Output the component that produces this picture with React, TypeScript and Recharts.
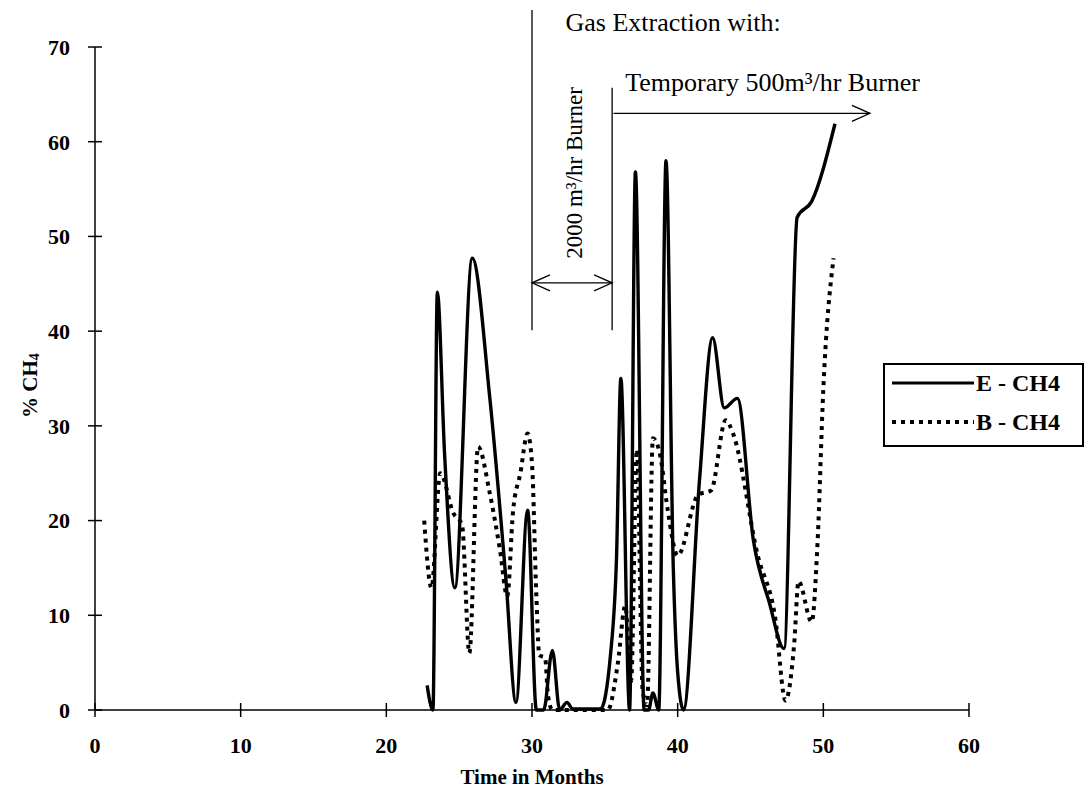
import { LineChart, Line, XAxis, YAxis, Legend, ReferenceLine, ReferenceDot } from "recharts"

// E - CH4 (solid)
const eMonths = [22.8, 23.2, 23.5, 24.0, 24.7, 25.9, 27.1, 28.2, 28.9, 29.7, 30.3, 30.8, 31.4, 31.9, 32.4, 32.8, 34.7, 35.4, 35.8, 36.1, 36.7, 37.1, 37.7, 38.0, 38.3, 38.7, 39.2, 39.7, 40.0, 40.4, 41.5, 42.4, 43.2, 44.1, 45.2, 46.3, 47.3, 48.2, 49.2, 50.8]
const eCH4 = [2.6, 0, 44.1, 27, 12.9, 47.7, 33, 14, 0.8, 21.1, 0, 0, 6.3, 0, 0.8, 0.1, 0.1, 6, 16, 35, 0, 56.8, 0, 0, 1.8, 0, 58, 15, 4, 0, 24.3, 39.3, 31.9, 32.9, 17.9, 11.3, 6.5, 52, 53.7, 61.9]

// B - CH4 (dotted)
const bMonths = [22.6, 23.1, 23.7, 24.6, 25.2, 25.7, 26.3, 27.1, 27.8, 28.3, 28.7, 29.2, 29.7, 30.0, 30.3, 30.5, 30.9, 31.1, 31.4, 35.2, 35.9, 36.4, 36.8, 37.2, 37.6, 37.9, 38.3, 38.8, 39.3, 40.0, 41.4, 42.3, 43.3, 43.8, 45.5, 46.7, 47.4, 48.0, 48.3, 49.2, 49.6, 50.0, 50.7]
const bCH4 = [20, 12.9, 25, 20.8, 19.5, 6, 27.8, 22.9, 16.9, 12, 21, 25, 29.2, 26, 12, 5.8, 5.5, 1.5, 0, 0, 5, 11, 3, 27.5, 2, 0.5, 28.7, 26.9, 21.3, 16.3, 22.7, 23.2, 30.6, 29.2, 16.3, 9.7, 1.0, 7, 13.6, 9.3, 17.6, 33.9, 47.7]

const xTicks = [0, 10, 20, 30, 40, 50, 60]
const yTicks = [0, 10, 20, 30, 40, 50, 60, 70]

const eData = eMonths.map((m, i) => ({ month: m, value: eCH4[i] }))
const bData = bMonths.map((m, i) => ({ month: m, value: bCH4[i] }))

const FONT = "'Liberation Serif', 'Times New Roman', serif"
const TICK = 7
const X_MARGIN = 20
const Y_MARGIN = 18

// line with open arrow heads drawn in pixel space
function ArrowShape(props: any) {
  const { x1, y1, x2, y2, both } = props
  const len = 18
  const half = 8
  const ang = Math.atan2(y2 - y1, x2 - x1)
  const head = (x: number, y: number, a: number) => {
    const bx = x - len * Math.cos(a)
    const by = y - len * Math.sin(a)
    const px = -Math.sin(a) * half
    const py = Math.cos(a) * half
    return `M${bx + px},${by + py} L${x},${y} L${bx - px},${by - py}`
  }
  return (
    <g>
      <line x1={x1} y1={y1} x2={x2} y2={y2} stroke="#000" strokeWidth={1.3} />
      <path d={head(x2, y2, ang)} fill="none" stroke="#000" strokeWidth={1.3} />
      {both && <path d={head(x1, y1, ang + Math.PI)} fill="none" stroke="#000" strokeWidth={1.3} />}
    </g>
  )
}

function textShape(label: string, anchor: string, size: number, rotate?: boolean) {
  return (p: any) => (
    <text
      x={p.cx}
      y={p.cy}
      textAnchor={anchor}
      dominantBaseline="central"
      fontFamily={FONT}
      fontSize={size}
      fill="#000"
      transform={rotate ? `rotate(-90 ${p.cx} ${p.cy})` : undefined}
    >
      {label}
    </text>
  )
}

// ticks crossing the axis on both sides, like the original
function XTick(p: any) {
  const axisY = p.y - X_MARGIN - TICK
  return (
    <g>
      <line x1={p.x} y1={axisY - TICK} x2={p.x} y2={axisY} stroke="#000" strokeWidth={1.5} />
      <text x={p.x} y={p.y} dy="0.71em" textAnchor="middle" fontFamily={FONT} fontSize={22} fontWeight="bold" fill="#000">
        {p.payload.value}
      </text>
    </g>
  )
}

function YTick(p: any) {
  const axisX = p.x + Y_MARGIN + TICK
  return (
    <g>
      <line x1={axisX} y1={p.y} x2={axisX + TICK} y2={p.y} stroke="#000" strokeWidth={1.5} />
      <text x={p.x} y={p.y} dy="0.355em" textAnchor="end" fontFamily={FONT} fontSize={22} fontWeight="bold" fill="#000">
        {p.payload.value}
      </text>
    </g>
  )
}

function LegendBox() {
  return (
    <svg width={201} height={84}>
      <rect x={1} y={1} width={199} height={82} fill="#fff" stroke="#000" strokeWidth={2} />
      <line x1={9} y1={20} x2={91} y2={20} stroke="#000" strokeWidth={3.2} />
      <text x={93} y={20} dominantBaseline="central" fontFamily={FONT} fontSize={24} fontWeight="bold">E - CH4</text>
      <line x1={9} y1={59} x2={91} y2={59} stroke="#000" strokeWidth={4} strokeDasharray="4 5" />
      <text x={93} y={59} dominantBaseline="central" fontFamily={FONT} fontSize={24} fontWeight="bold">B - CH4</text>
    </svg>
  )
}

export default function App() {
  return (
    <div style={{ position: "absolute", left: 0, top: 0, background: "#fff" }}>
      <LineChart width={1086} height={796} margin={{ top: 47, right: 117, left: 15, bottom: 6 }}>
        <XAxis
          type="number"
          dataKey="month"
          domain={[0, 60]}
          ticks={xTicks}
          allowDuplicatedCategory={false}
          stroke="#000"
          strokeWidth={1.5}
          tickSize={TICK}
          tickMargin={X_MARGIN}
          height={80}
          tick={XTick}
          label={(props: any) => {
            const vb = props.viewBox || {}
            return (
              <text x={vb.x + vb.width / 2} y={vb.y + 74} textAnchor="middle" fontFamily={FONT} fontSize={21} fontWeight="bold" fill="#000">
                Time in Months
              </text>
            )
          }}
        />
        <YAxis
          type="number"
          domain={[0, 70]}
          ticks={yTicks}
          width={80}
          stroke="#000"
          strokeWidth={1.5}
          tickSize={TICK}
          tickMargin={Y_MARGIN}
          tick={YTick}
          label={(props: any) => {
            const vb = props.viewBox || {}
            const cx = vb.x + 15
            const cy = vb.y + vb.height / 2 + 7
            return (
              <text x={cx} y={cy} textAnchor="middle" dominantBaseline="central" fontFamily={FONT} fontSize={21} fontWeight="bold" fill="#000" transform={`rotate(-90 ${cx} ${cy})`}>
                % CH<tspan fontSize={14} dy={4}>4</tspan>
              </text>
            )
          }}
        />
        <Legend
          layout="vertical"
          align="center"
          verticalAlign="middle"
          wrapperStyle={{ left: 883, top: 363, width: 201 }}
          content={() => <LegendBox />}
        />

        {/* gas extraction annotations */}
        <ReferenceLine segment={[{ x: 30, y: 73.9 }, { x: 30, y: 40.1 }]} stroke="#000" strokeWidth={1.3} ifOverflow="visible" />
        <ReferenceLine segment={[{ x: 35.5, y: 65.7 }, { x: 35.5, y: 40.1 }]} stroke="#000" strokeWidth={1.3} ifOverflow="visible" />
        <ReferenceLine segment={[{ x: 30, y: 45.1 }, { x: 35.5, y: 45.1 }]} ifOverflow="visible" shape={(p: any) => <ArrowShape {...p} both />} />
        <ReferenceLine segment={[{ x: 35.6, y: 63 }, { x: 53.2, y: 63 }]} ifOverflow="visible" shape={(p: any) => <ArrowShape {...p} />} />
        <ReferenceDot x={32.3} y={72.6} r={0} ifOverflow="visible" shape={textShape("Gas Extraction with:", "start", 26)} />
        <ReferenceDot x={36.4} y={66.3} r={0} ifOverflow="visible" shape={textShape("Temporary 500m³/hr Burner", "start", 26)} />
        <ReferenceDot x={32.9} y={56.7} r={0} ifOverflow="visible" shape={textShape("2000 m³/hr Burner", "middle", 23, true)} />

        <Line data={bData} dataKey="value" name="B - CH4" type="monotone" stroke="#000" strokeWidth={4} strokeDasharray="4 5" dot={false} activeDot={false} isAnimationActive={false} />
        <Line data={eData} dataKey="value" name="E - CH4" type="monotone" stroke="#000" strokeWidth={3.4} dot={false} activeDot={false} isAnimationActive={false} />
      </LineChart>
    </div>
  )
}
